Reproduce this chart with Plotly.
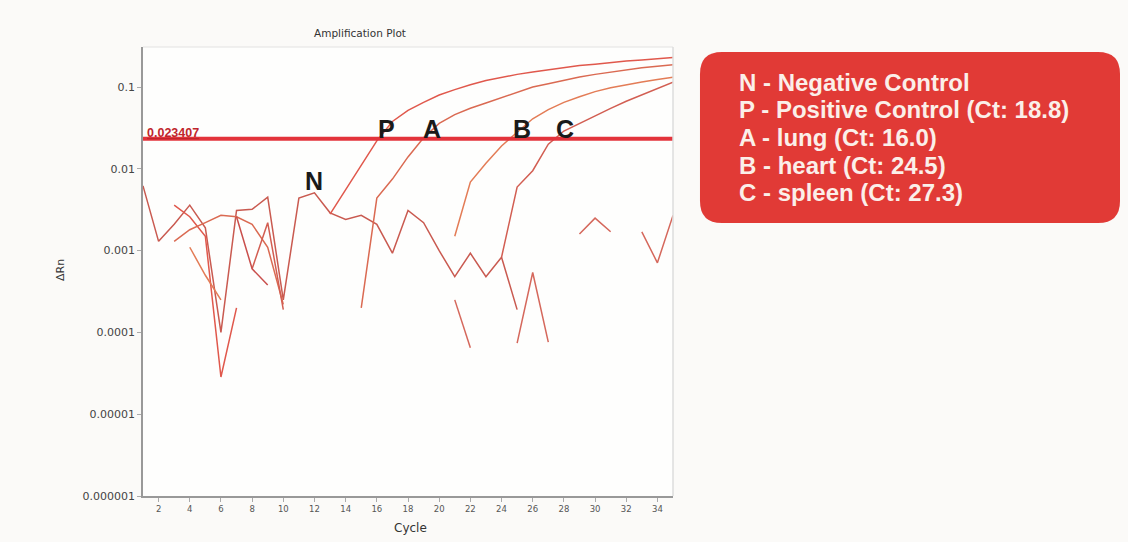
import math
import plotly.graph_objects as go

cycles = list(range(1, 36))

neg_control = [0.0062, 0.0013, 0.0021, 0.0036, 0.0019, 0.0001, 0.0031, 0.0032, 0.0045, 0.00025,
               0.0044, 0.0051, 0.0029, 0.0024, 0.0027, 0.0021, 0.00093, 0.0031, 0.0022, 0.0010,
               0.00048, 0.00093, 0.00048, 0.00083, 0.00019,
               None, None, None, None, None, None, None, None, None, None]
pos_control = [None, None, 0.0036, 0.0026, 0.0015, 0.0000285, 0.0002, None, None, None,
               None, None, 0.0028, 0.0055, 0.011, 0.022, 0.038, 0.052, 0.065, 0.080,
               0.093, 0.107, 0.120, 0.132, 0.143, 0.153, 0.163, 0.172, 0.183, 0.190,
               0.200, 0.208, 0.215, 0.222, 0.230]
lung = [None, None, 0.0013, 0.0018, 0.0022, 0.0027, 0.0026, 0.0021, 0.0011, 0.00022,
        None, None, None, None, 0.0002, 0.0044, 0.0075, 0.014, 0.024, 0.036,
        0.046, 0.055, 0.064, 0.074, 0.086, 0.100, 0.110, 0.122, 0.133, 0.143,
        0.153, 0.163, 0.172, 0.180, 0.187]
heart = [None, None, None, 0.0011, 0.0005, 0.00025, None, None, None, None,
         None, None, None, None, None, None, None, None, None, None,
         0.0015, 0.0069, 0.0117, 0.019, 0.028, 0.041, 0.053, 0.065, 0.076, 0.088,
         0.098, 0.107, 0.115, 0.124, 0.132]
spleen = [None, None, None, None, None, None, None, 0.0006, 0.0022, 0.00019,
          None, None, None, None, None, None, None, None, None, None,
          None, None, None, 0.00083, 0.006, 0.0095, 0.020, 0.029, 0.036, 0.045,
          0.055, 0.067, 0.080, 0.097, 0.115]
well_d = [None, None, None, None, None, None, 0.0026, 0.0006, 0.00038, None,
          None, None, None, None, None, None, None, None, None, None,
          None, None, None, None, None, None, None, None, None, None,
          None, None, None, None, None]
well_e = [None, None, None, None, None, None, None, None, None, None,
          None, None, None, None, None, None, None, None, None, None,
          0.00025, 0.000065, None, None, 0.000074, 0.00054, 0.000076, None, 0.0016, 0.0025,
          0.0017, None, 0.0017, 0.00071, 0.0027]

threshold = 0.023407
threshold_label = "0.023407"

series = [
    ("N", neg_control, "#c95a50"),
    ("P", pos_control, "#e0584c"),
    ("A", lung, "#da6a52"),
    ("B", heart, "#e37c56"),
    ("C", spleen, "#d25e52"),
    ("D", well_d, "#c94f4c"),
    ("E", well_e, "#d5685c"),
]

curve_labels = ["N", "P", "A", "B", "C"]
label_cycles = [11.97, 16.65, 19.54, 25.31, 28.07]
label_values = [0.0071, 0.0307, 0.0307, 0.0307, 0.0307]

legend_lines = [
    "N - Negative Control",
    "P - Positive Control (Ct: 18.8)",
    "A - lung (Ct: 16.0)",
    "B - heart (Ct: 24.5)",
    "C - spleen (Ct: 27.3)",
]

y_tickvals = [1e-6, 1e-5, 1e-4, 1e-3, 1e-2, 1e-1]
y_ticktext = ["0.000001", "0.00001", "0.0001", "0.001", "0.01", "0.1"]
x_tickvals = list(range(2, 35, 2))

fig = go.Figure()
for name, vals, col in series:
    fig.add_trace(go.Scatter(x=cycles, y=vals, mode="lines", name=name,
                             line=dict(color=col, width=1.5), connectgaps=False,
                             showlegend=False, hoverinfo="skip"))

fig.add_trace(go.Scatter(x=[1, 35], y=[threshold, threshold], mode="lines",
                         line=dict(color="#e3333b", width=4), showlegend=False,
                         hoverinfo="skip"))

annotations = []
for lab, cx, cy in zip(curve_labels, label_cycles, label_values):
    annotations.append(dict(x=cx, y=math.log10(cy), xref="x", yref="y", text=f"<b>{lab}</b>",
                            showarrow=False, font=dict(family="Liberation Sans", size=25, color="#1a1a1a"),
                            xanchor="center", yanchor="middle"))

annotations.append(dict(x=1.1, y=math.log10(threshold), xref="x", yref="y",
                        text=f"<b><u>{threshold_label}</u></b>", showarrow=False,
                        font=dict(family="Liberation Sans", size=12.5, color="#c0262c"),
                        xanchor="left", yanchor="bottom", yshift=-3))

# title and axis titles
annotations.append(dict(x=0.409, y=1.031, xref="paper", yref="paper", text="Amplification Plot",
                        showarrow=False, font=dict(family="DejaVu Sans", size=10.5, color="#333"),
                        xanchor="center", yanchor="middle"))
annotations.append(dict(x=-0.157, y=0.503, xref="paper", yref="paper", text="ΔRn", textangle=-90,
                        showarrow=False, font=dict(family="DejaVu Sans", size=11, color="#333"),
                        xanchor="center", yanchor="middle"))
annotations.append(dict(x=0.504, y=-0.071, xref="paper", yref="paper", text="Cycle",
                        showarrow=False, font=dict(family="DejaVu Sans", size=12, color="#333"),
                        xanchor="center", yanchor="middle"))

# legend box text
line_y = [0.922, 0.860, 0.798, 0.737, 0.675]
for txt, ly in zip(legend_lines, line_y):
    annotations.append(dict(x=1.121, y=ly, xref="paper", yref="paper", text=f"<b>{txt}</b>",
                            showarrow=False, font=dict(family="Liberation Sans", size=24, color="#fbefe9"),
                            xanchor="left", yanchor="middle"))

x0, x1, y0, y1 = 1.0509, 1.8434, 0.608, 0.989
rx, ry = 22 / 530, 22 / 449
box_path = (f"M {x0+rx},{y0} L {x1-rx},{y0} Q {x1},{y0} {x1},{y0+ry} "
            f"L {x1},{y1-ry} Q {x1},{y1} {x1-rx},{y1} L {x0+rx},{y1} "
            f"Q {x0},{y1} {x0},{y1-ry} L {x0},{y0+ry} Q {x0},{y0} {x0+rx},{y0} Z")

shapes = [
    dict(type="path", path=box_path, xref="paper", yref="paper",
         fillcolor="#e13a36", line=dict(width=0), layer="below"),
    dict(type="line", x0=0, x1=1, y0=1, y1=1, xref="paper", yref="paper",
         line=dict(color="#e2e2e2", width=1)),
    dict(type="line", x0=1, x1=1, y0=0, y1=1, xref="paper", yref="paper",
         line=dict(color="#dcdcdc", width=1.5)),
]

fig.update_layout(
    width=1128, height=542,
    margin=dict(l=143, r=455, t=47, b=46),
    paper_bgcolor="#fbfaf8",
    plot_bgcolor="#fefefd",
    annotations=annotations,
    shapes=shapes,
    xaxis=dict(range=[1, 35], tickvals=x_tickvals, showgrid=False, zeroline=False,
               showline=True, linecolor="#999", linewidth=1.5, ticks="outside", ticklen=4,
               tickcolor="#aaa", tickfont=dict(family="DejaVu Sans", size=8.5, color="#555")),
    yaxis=dict(type="log", range=[-6, -0.51], tickvals=y_tickvals, ticktext=y_ticktext,
               showgrid=False, zeroline=False, showline=True, linecolor="#999", linewidth=1.5,
               ticks="outside", ticklen=4, tickcolor="#aaa",
               tickfont=dict(family="DejaVu Sans", size=11, color="#444")),
)

fig.write_html("out.html", config={"displayModeBar": False},
               post_script="document.body.style.margin='0';document.body.style.background='#fbfaf8';")
